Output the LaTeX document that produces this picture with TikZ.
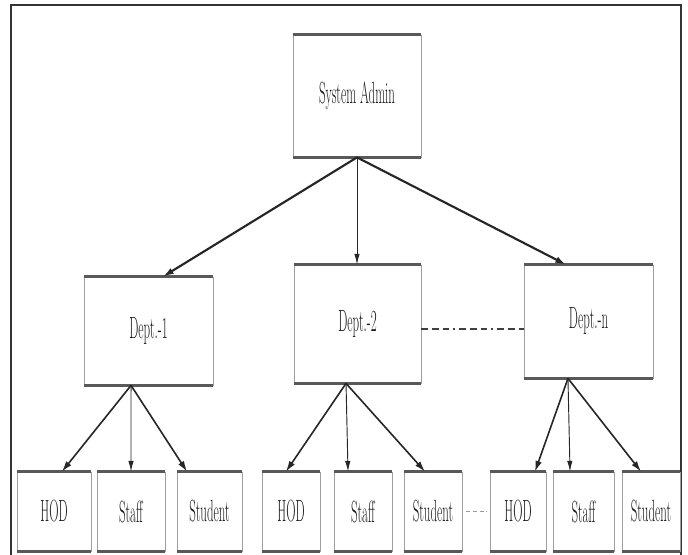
\documentclass[tikz,border=0pt]{standalone}
\usepackage{graphicx}
\usepackage{tikz}
\usetikzlibrary{arrows.meta,calc}

\newcommand{\slim}[1]{\scalebox{0.42}[1]{#1}}

\begin{document}
\begin{tikzpicture}[
  x=0.75pt, y=-0.75pt,
  font=\fontsize{23}{25}\selectfont,
  box/.style={draw=gray!75, line width=0.6pt, inner sep=0pt, text=black!90, align=center},
  lowbox/.style={box, minimum height=59.25pt},
  edge/.style={draw=gray!70!black, line width=1.8pt},
  arr/.style={-{Latex[length=8pt,width=5pt]}, line width=1.6pt, black!85},
  thinarr/.style={-{Latex[length=8pt,width=4pt]}, line width=0.7pt, black!85},
  frame/.style={draw=black!80, line width=1.8pt},
  link/.style={draw=black!75, line width=1.1pt,
               dash pattern=on 5pt off 3pt on 5pt off 3pt on 5pt off 3pt on 1.5pt off 3pt},
  gap/.style={draw=gray!80, line width=0.9pt, dash pattern=on 3pt off 2pt},
]
\useasboundingbox (0,0) rectangle (688,555);
\fill[white] (0,0) rectangle (688,555);
\draw[frame] (11,5) rectangle (681,557);

%% ---------- top: admin ----------
\node[box, minimum width=96pt, minimum height=91.5pt] (admin) at (357,96) {\slim{System Admin}};

%% ---------- middle: departments ----------
\node[box, minimum width=96.75pt, minimum height=81pt] (d1) at (148.5,331) {\slim{Dept.-1}};
\node[box, minimum width=95.25pt, minimum height=88.5pt] (d2) at (357.5,324) {\slim{Dept.-2}};
\node[box, minimum width=96.75pt, minimum height=84.75pt] (dn) at (588.5,321.5) {\slim{Dept.-n}};

%% ---------- bottom: members ----------
\node[lowbox, minimum width=55.5pt]  (hod1) at (54,511.5)   {\slim{HOD}};
\node[lowbox, minimum width=51pt]    (sta1) at (131,511.5)  {\slim{Staff}};
\node[lowbox, minimum width=48.75pt] (stu1) at (209.5,511.5) {\slim{Student}};
\node[lowbox, minimum width=43.5pt]  (hod2) at (291,511.5)  {\slim{HOD}};
\node[lowbox, minimum width=43.5pt]  (sta2) at (363,511.5)  {\slim{Staff}};
\node[lowbox, minimum width=43.5pt]  (stu2) at (433,511.5)  {\slim{Student}};
\node[lowbox, minimum width=42pt]    (hod3) at (518,511.5)  {\slim{HOD}};
\node[lowbox, minimum width=45.75pt] (sta3) at (583.5,511.5) {\slim{Staff}};
\node[lowbox, minimum width=43.5pt]  (stu3) at (651,511.5)  {\slim{Student}};

% heavier top and bottom rules on every box
\foreach \n in {admin,d1,d2,dn,hod1,sta1,stu1,hod2,sta2,stu2,hod3,sta3,stu3} {
  \draw[edge] (\n.north west) -- (\n.north east);
  \draw[edge] (\n.south west) -- (\n.south east);
}

%% ---------- connectors ----------
\draw[arr] (admin.south) -- ([xshift=10.9pt]d1.north);
\draw[thinarr] (admin.south) -- (admin.south |- d2.north);
\draw[arr] (admin.south) -- ([xshift=-16.9pt]dn.north);

\foreach \a/\b/\s/\t in {d1/hod1/-13.1pt/6pt, d1/stu1/-13.1pt/-16.9pt,
                         d2/hod2/-8.6pt/-3.75pt, d2/stu2/-8.6pt/-6pt,
                         dn/hod3/-15.4pt/12.75pt, dn/stu3/-15.4pt/-7.5pt}
  \draw[arr, line width=1.2pt] ([xshift=\s]\a.south) -- ([xshift=\t]\b.north);

\foreach \a/\b/\s/\t in {d1/sta1/-13.1pt/0pt, d2/sta2/-8.6pt/-11.25pt, dn/sta3/-15.4pt/-10.1pt}
  \draw[thinarr] ([xshift=\s]\a.south) -- ([xshift=\t]\b.north);

\draw[link] ([yshift=-3.75pt]d2.east) -- ([yshift=-3.75pt]d2.east -| dn.west);
\draw[gap, shorten <=3pt, shorten >=2pt] (stu2.east) -- (hod3.west);

\end{tikzpicture}
\end{document}
